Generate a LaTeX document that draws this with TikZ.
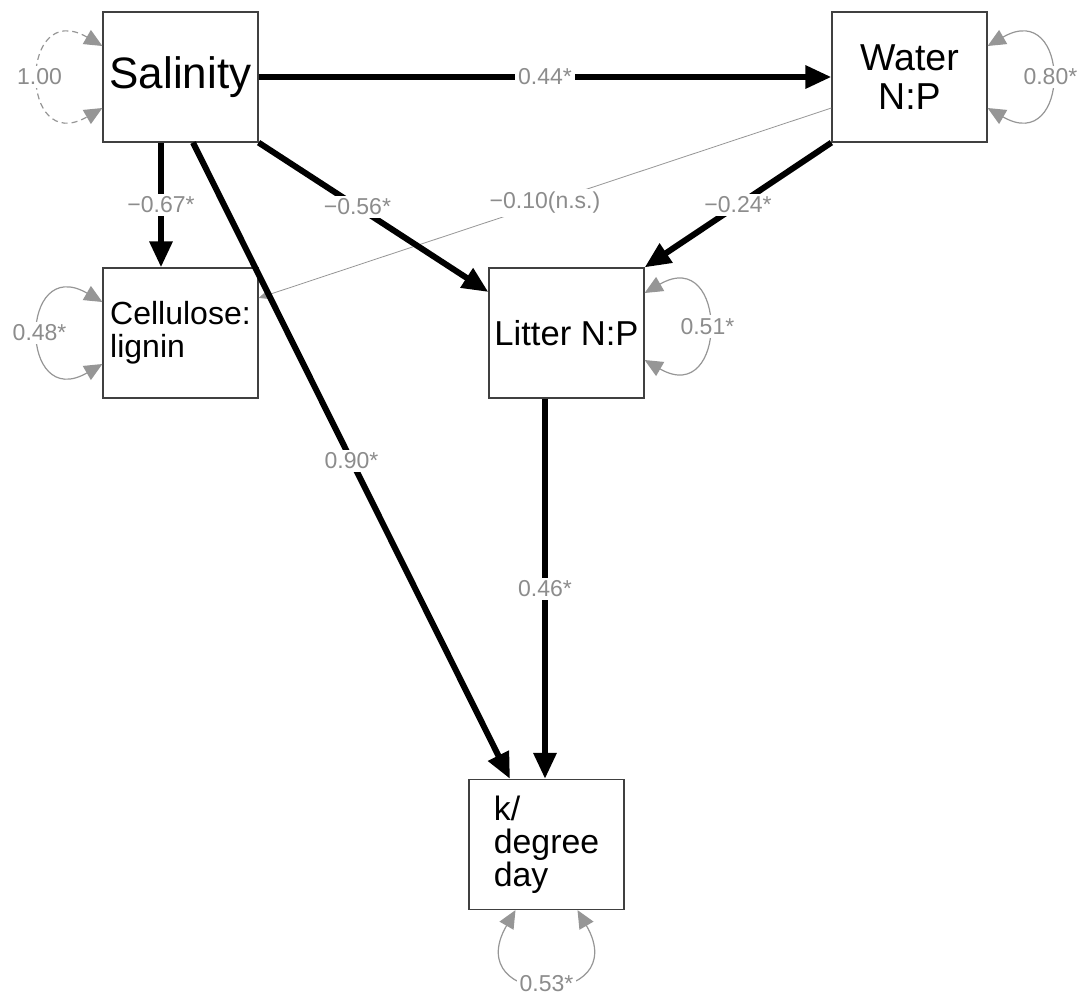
\documentclass[tikz,border=0pt]{standalone}
\usepackage{fontspec}
\setmainfont{Liberation Sans}
\usepackage{xcolor}
\usetikzlibrary{arrows.meta}

\definecolor{coefgray}{RGB}{140,140,140}
\definecolor{loopgray}{RGB}{150,150,150}

\begin{document}
\begin{tikzpicture}[
  x=0.5pt, y=-0.5pt,
  var/.style={rectangle, draw=black!75, line width=0.6pt, fill=white, minimum width=77.5pt, minimum height=65pt, inner sep=0pt, align=center},
  varl/.style={var, align=left},
  path/.style={-{Triangle[length=13pt, width=11pt]}, line width=3pt},
  weak/.style={-{Triangle[length=6pt, width=5pt]}, line width=0.4pt, draw=loopgray},
  resid/.style={{Triangle[length=9pt, width=8pt]}-{Triangle[length=9pt, width=8pt]}, line width=0.6pt, draw=loopgray, color=loopgray},
  coef/.style={font=\fontsize{11.5}{13}\selectfont, text=coefgray, fill=white, inner sep=1.5pt, midway}
]
  \useasboundingbox (0,0) rectangle (1084,998);

  \node[var, font=\fontsize{22}{24}\selectfont] (sal) at (180.5,77) {Salinity};
  \node[var, font=\fontsize{18.75}{19.7}\selectfont] (wat) at (909.5,77) {Water\\N:P};
  \node[varl, font=\fontsize{16}{16.5}\selectfont] (cel) at (180.5,333) {Cellulose:\\lignin};
  \node[var, font=\fontsize{17.3}{18}\selectfont] (lit) at (566.5,333) {Litter N:P};
  \node[varl, font=\fontsize{16.9}{16.6}\selectfont] (kdd) at (546.5,844.5) {k/\\degree\\day};

  % non-significant path first, thick ones cross over it
  \draw[weak] ([yshift=-15.5pt]wat.west) -- node[coef] {−0.10(n.s.)} ([yshift=17.5pt]cel.east);

  \draw[path] (sal.east) -- node[coef] {0.44*} (wat.west);
  \draw[path] ([xshift=-9.75pt]sal.south) -- node[coef] {−0.67*} ([xshift=-9.75pt]cel.north);
  \draw[path] (sal.south east) -- node[coef, pos=0.43] {−0.56*} ([yshift=20.5pt]lit.west);
  \draw[path] (wat.south west) -- node[coef] {−0.24*} (lit.north east);
  \draw[path] ([xshift=6.25pt]sal.south) -- node[coef] {0.90*} ([xshift=-18.25pt]kdd.north);
  \draw[path] ([xshift=-10.75pt]lit.south) -- node[coef] {0.46*} ([xshift=-0.75pt]kdd.north);

  % residual variances
  \draw[resid, dashed, dash pattern=on 3pt off 2pt] ([yshift=15.5pt]sal.west) to[out=150, in=210, looseness=4] node[coef] {1.00} ([yshift=-15.5pt]sal.west);
  \draw[resid] ([yshift=15.5pt]wat.east) to[out=30, in=-30, looseness=4] node[coef] {0.80*} ([yshift=-15.5pt]wat.east);
  \draw[resid] ([yshift=15.5pt]cel.west) to[out=150, in=210, looseness=4] node[coef] {0.48*} ([yshift=-15.5pt]cel.west);
  \draw[resid] ([yshift=20pt]lit.east) to[out=30, in=-30, looseness=3.7] node[coef] {0.51*} ([yshift=-13.5pt]lit.east);
  \draw[resid] ([xshift=-15.5pt]kdd.south) to[out=240, in=300, looseness=4.7] node[coef] {0.53*} ([xshift=15.5pt]kdd.south);
\end{tikzpicture}
\end{document}
